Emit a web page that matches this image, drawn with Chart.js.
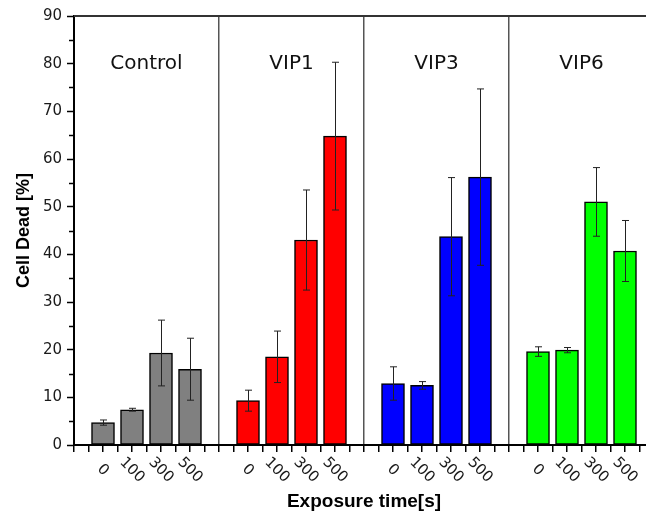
<!DOCTYPE html>
<html>
<head>
<meta charset="utf-8">
<script src="https://cdn.jsdelivr.net/npm/chart.js@4.4.0/dist/chart.umd.min.js"></script>
<style>
  html, body { margin: 0; padding: 0; background: #fff; overflow: hidden; }
  #wrap { width: 654px; height: 513px; }
</style>
</head>
<body>
<div id="wrap"><canvas id="myChart"></canvas></div>
<script>
/************** data ******/
var groups = ["Control", "VIP1", "VIP3", "VIP6"];
var times = ["0", "100", "300", "500"];
var groupColors = ["#808080", "#ff0000", "#0000ff", "#00ff00"];

// mean cell death [%], one value per exposure time
var control = [4.7, 7.4, 19.3, 15.9];
var vip1 = [9.3, 18.5, 43.0, 64.8];
var vip3 = [12.9, 12.5, 43.7, 56.2];
var vip6 = [19.6, 19.9, 51.0, 40.7];

// error (+/-)
var controlErr = [0.55, 0.3, 6.9, 6.5];
var vip1Err = [2.2, 5.4, 10.5, 15.5];
var vip3Err = [3.5, 0.8, 12.4, 18.5];
var vip6Err = [1.0, 0.55, 7.2, 6.4];

var means = [control, vip1, vip3, vip6];
var errs = [controlErr, vip1Err, vip3Err, vip6Err];

// each group takes 5 slots on the x axis: 4 bars + a separator
var points = [], colors = [], errors = [], tickText = {};
means.forEach(function (vals, g) {
  vals.forEach(function (v, i) {
    var pos = g * 5 + i + 1;
    points.push({x: pos, y: v});
    colors.push(groupColors[g]);
    errors.push(errs[g][i]);
    tickText[pos] = times[i];
  });
});

var extras = {
  id: "extras",
  afterDatasetsDraw: function (chart) {
    var ctx = chart.ctx, xs = chart.scales.x, ys = chart.scales.y;
    ctx.save();
    ctx.strokeStyle = "#222";
    ctx.lineWidth = 1;
    points.forEach(function (p, k) {
      var x = Math.round(xs.getPixelForValue(p.x)) + 0.5;
      var top = ys.getPixelForValue(p.y + errors[k]);
      var bot = ys.getPixelForValue(p.y - errors[k]);
      ctx.beginPath();
      ctx.moveTo(x, top); ctx.lineTo(x, bot);
      ctx.moveTo(x - 3.5, top); ctx.lineTo(x + 3.5, top);
      ctx.moveTo(x - 3.5, bot); ctx.lineTo(x + 3.5, bot);
      ctx.stroke();
    });
    ctx.restore();
  },
  afterDraw: function (chart) {
    var ctx = chart.ctx, xs = chart.scales.x, ys = chart.scales.y, area = chart.chartArea;
    ctx.save();
    // frame on top
    ctx.strokeStyle = "#333";
    ctx.lineWidth = 2;
    ctx.beginPath();
    ctx.moveTo(area.left, area.top);
    ctx.lineTo(area.right, area.top);
    ctx.lineTo(area.right, area.bottom);
    ctx.stroke();
    // minor y ticks
    ctx.strokeStyle = "#000";
    ctx.lineWidth = 1.5;
    for (var v = 5; v < 90; v += 10) {
      var y = Math.round(ys.getPixelForValue(v)) + 0.5;
      ctx.beginPath();
      ctx.moveTo(area.left - 5, y);
      ctx.lineTo(area.left, y);
      ctx.stroke();
    }
    // rotated exposure time labels
    ctx.fillStyle = "#1a1a1a";
    ctx.font = "15px 'DejaVu Sans'";
    ctx.textAlign = "center";
    ctx.textBaseline = "middle";
    Object.keys(tickText).forEach(function (pos) {
      ctx.save();
      ctx.translate(xs.getPixelForValue(+pos), area.bottom + 25);
      ctx.rotate(Math.PI / 4);
      ctx.fillText(tickText[pos], 0, 0);
      ctx.restore();
    });
    // group names
    ctx.fillStyle = "#111";
    ctx.font = "20px 'DejaVu Sans'";
    groups.forEach(function (name, g) {
      ctx.fillText(name, xs.getPixelForValue(g * 5 + 2.5), ys.getPixelForValue(80));
    });
    ctx.restore();
  }
};

new Chart("myChart", {
  type: "bar",
  data: {
    datasets: [{
      data: points,
      backgroundColor: colors,
      borderColor: "#000",
      borderWidth: 1.5,
      borderSkipped: false,
      barThickness: 23
    }]
  },
  options: {
    responsive: true,
    maintainAspectRatio: false,
    animation: false,
    layout: {padding: {top: 16, right: 0, bottom: 0, left: 0}},
    plugins: {legend: {display: false}, tooltip: {enabled: false}},
    scales: {
      x: {
        type: "linear",
        offset: false,
        min: 0,
        max: 20,
        ticks: {stepSize: 0.5, display: false},
        grid: {
          offset: false,
          drawOnChartArea: true,
          color: function (c) {
            var t = c.tick ? c.tick.value : -1;
            return (t === 5 || t === 10 || t === 15) ? "#555" : "rgba(0,0,0,0)";
          },
          lineWidth: 1.5,
          tickColor: "#000",
          tickWidth: 1.5,
          tickLength: 7
        },
        border: {color: "#000", width: 2},
        title: {
          display: true,
          text: "Exposure time[s]",
          color: "#000",
          font: {family: "Liberation Sans", size: 19, weight: "bold"},
          padding: {top: 0, bottom: 0}
        },
        afterFit: function (s) { s.height = 68; }
      },
      y: {
        min: 0,
        max: 90,
        ticks: {stepSize: 10, color: "#1a1a1a", font: {family: "DejaVu Sans", size: 15}, padding: 5},
        grid: {drawOnChartArea: false, tickLength: 7, tickColor: "#000", tickWidth: 1.5},
        border: {color: "#000", width: 2},
        title: {
          display: true,
          text: "Cell Dead [%]",
          color: "#000",
          font: {family: "Liberation Sans", size: 18, weight: "bold"},
          padding: {top: 13, bottom: 0}
        },
        afterFit: function (s) { s.width = 74; }
      }
    }
  },
  plugins: [extras]
});
</script>
</body>
</html>
